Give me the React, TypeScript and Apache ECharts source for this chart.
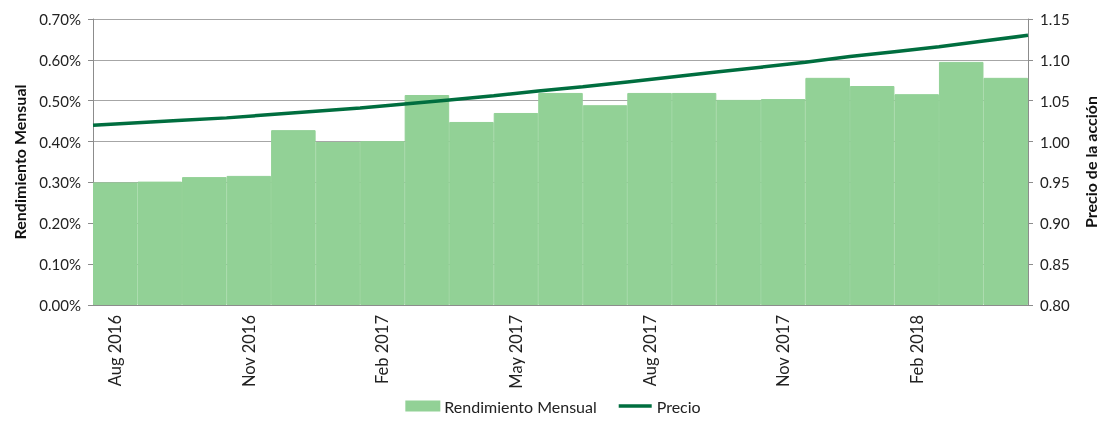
import React, { useEffect, useRef } from "react";
import * as echarts from "echarts";

const months = [
  "Aug 2016", "Sep 2016", "Oct 2016", "Nov 2016", "Dec 2016",
  "Jan 2017", "Feb 2017", "Mar 2017", "Apr 2017", "May 2017", "Jun 2017",
  "Jul 2017", "Aug 2017", "Sep 2017", "Oct 2017", "Nov 2017", "Dec 2017",
  "Jan 2018", "Feb 2018", "Mar 2018", "Apr 2018",
];

// Rendimiento Mensual (%)
const monthlyReturn = [
  0.30, 0.302, 0.313, 0.316, 0.428, 0.399, 0.401, 0.514, 0.448, 0.47, 0.519,
  0.489, 0.519, 0.519, 0.502, 0.504, 0.556, 0.536, 0.516, 0.595, 0.556,
];

// Precio at month boundaries (0 = start of Aug 2016 ... 21 = end of Apr 2018)
const priceBoundary = [0, 1, 2, 3, 4, 5, 6, 7, 8, 9, 10, 11, 12, 13, 14, 15, 16, 17, 18, 19, 20, 21];
const price = [
  1.020, 1.023, 1.026, 1.029, 1.033, 1.037, 1.041, 1.046, 1.051, 1.056, 1.062,
  1.067, 1.073, 1.079, 1.085, 1.091, 1.097, 1.104, 1.110, 1.116, 1.123, 1.130,
];

const FONT = "Lato";

export default function App() {
  const ref = useRef<HTMLDivElement>(null);
  useEffect(() => {
    if (!ref.current) return;
    const chart = echarts.init(ref.current, null, { renderer: "svg" });
    const axisColor = "#8c8c8c";
    chart.setOption({
      animation: false,
      textStyle: { fontFamily: FONT },
      grid: { left: 93, right: 75, top: 19, bottom: 116, containLabel: false },
      legend: {
        bottom: 2,
        left: "center",
        itemWidth: 33,
        itemHeight: 9,
        itemGap: 22,
        textStyle: { fontFamily: FONT, fontSize: 16, color: "#222" },
        data: [
          { name: "Rendimiento Mensual", icon: "rect" },
          { name: "Precio", icon: "path://M0 0H33V3.5H0Z" },
        ],
      },
      xAxis: [
        {
          type: "category",
          data: months,
          boundaryGap: true,
          axisLine: { lineStyle: { color: axisColor, width: 1 } },
          axisTick: { interval: 2, alignWithLabel: false, length: 5, lineStyle: { color: axisColor } },
          axisLabel: {
            interval: 2,
            rotate: 90,
            fontFamily: FONT,
            fontSize: 16.5,
            color: "#222",
            margin: 10,
          },
          splitLine: { show: false },
        },
        {
          type: "value",
          min: 0,
          max: 21,
          show: false,
        },
      ],
      yAxis: [
        {
          type: "value",
          min: 0,
          max: 0.7,
          interval: 0.1,
          name: "Rendimiento Mensual",
          nameLocation: "middle",
          nameGap: 66,
          nameTextStyle: { fontFamily: FONT, fontSize: 16, fontWeight: "bold", color: "#111" },
          axisLine: { show: true, lineStyle: { color: axisColor } },
          axisTick: { show: true, length: 5, lineStyle: { color: axisColor } },
          axisLabel: {
            fontFamily: FONT,
            fontSize: 15,
            color: "#222",
            margin: 12,
            formatter: (v: number) => v.toFixed(2) + "%",
          },
          splitLine: { show: true, lineStyle: { color: "#a6a6a6", width: 1 } },
        },
        {
          type: "value",
          min: 0.8,
          max: 1.15,
          interval: 0.05,
          position: "right",
          name: "Precio de la acción",
          nameLocation: "middle",
          nameGap: 54,
          nameRotate: 90,
          nameTextStyle: { fontFamily: FONT, fontSize: 16, fontWeight: "bold", color: "#111" },
          axisLine: { show: true, lineStyle: { color: axisColor } },
          axisTick: { show: true, length: 5, lineStyle: { color: axisColor } },
          axisLabel: {
            fontFamily: FONT,
            fontSize: 15,
            color: "#222",
            margin: 12,
            formatter: (v: number) => v.toFixed(2),
          },
          splitLine: { show: false },
        },
      ],
      series: [
        {
          name: "Rendimiento Mensual",
          type: "bar",
          xAxisIndex: 0,
          yAxisIndex: 0,
          data: monthlyReturn,
          barCategoryGap: "0%",
          barGap: "0%",
          itemStyle: { color: "#92d196", borderColor: "#92d196", borderWidth: 1 },
          z: 1,
        },
        {
          name: "Precio",
          type: "line",
          xAxisIndex: 1,
          yAxisIndex: 1,
          data: priceBoundary.map((k, i) => [k, price[i]]),
          symbol: "none",
          smooth: false,
          lineStyle: { color: "#006e3f", width: 3.5 },
          itemStyle: { color: "#006e3f" },
          z: 3,
        },
      ],
    });
    return () => chart.dispose();
  }, []);
  return (
    <div
      ref={ref}
      style={{ position: "fixed", left: 0, top: 0, width: 1106, height: 421 }}
    />
  );
}
